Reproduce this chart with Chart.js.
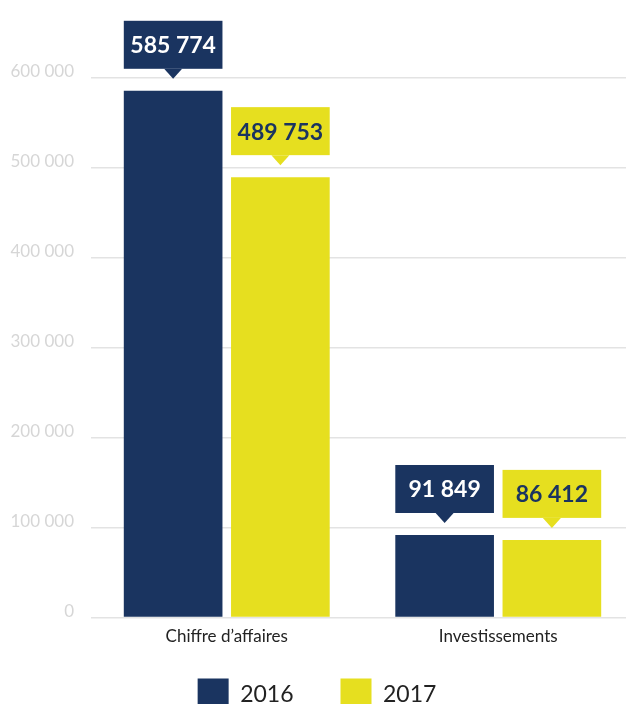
<!DOCTYPE html>
<html lang="fr">
<head>
<meta charset="utf-8">
<script src="https://cdn.jsdelivr.net/npm/chart.js@4.4.0/dist/chart.umd.min.js"></script>
<style>
  html, body { margin: 0; padding: 0; background: #fff; overflow: hidden; }
  #cadre { position: relative; width: 634px; height: 736px; }
</style>
</head>
<body>
<div id="cadre"><canvas id="graphique"></canvas></div>
<script>
const categories = ['Chiffre d’affaires', 'Investissements'];
const annees = ['2016', '2017'];
const valeurs2016 = [585774, 91849];
const valeurs2017 = [489753, 86412];
const graduations = [0, 100000, 200000, 300000, 400000, 500000, 600000];

const couleurs = ['#1a3460', '#e6df1f'];
const couleursTexte = ['#ffffff', '#1a3460'];

function formatNombre(v) {
  return String(v).replace(/\B(?=(\d{3})+(?!\d))/g, ' ');
}

// bulles au-dessus des barres
const bulles = {
  id: 'bulles',
  afterDatasetsDraw(chart) {
    const ctx = chart.ctx;
    chart.data.datasets.forEach((ds, i) => {
      const meta = chart.getDatasetMeta(i);
      meta.data.forEach((barre, j) => {
        const { x, y, width } = barre.getProps(['x', 'y', 'width'], true);
        const bas = y - 22;
        const haut = bas - 48;
        ctx.save();
        ctx.fillStyle = ds.backgroundColor;
        ctx.fillRect(x - width / 2, haut, width, 48);
        ctx.beginPath();
        ctx.moveTo(x - 9, bas);
        ctx.lineTo(x + 9, bas);
        ctx.lineTo(x, bas + 10);
        ctx.closePath();
        ctx.fill();
        ctx.fillStyle = couleursTexte[i];
        ctx.font = 'bold 23px Lato';
        ctx.textAlign = 'center';
        ctx.textBaseline = 'middle';
        ctx.fillText(formatNombre(ds.data[j]), x, haut + 25);
        ctx.restore();
      });
    });
  }
};

// remonte la légende juste sous les libellés
const legendeHaute = {
  id: 'legendeHaute',
  afterLayout(chart) {
    const leg = chart.legend;
    const h = leg.bottom - leg.top;
    leg.top = chart.chartArea.bottom + 14;
    leg.bottom = leg.top + h;
  }
};

const ctx = document.getElementById('graphique').getContext('2d');
new Chart(ctx, {
  type: 'bar',
  data: {
    labels: categories,
    datasets: [
      {
        label: annees[0],
        data: valeurs2016,
        backgroundColor: couleurs[0],
        borderWidth: 0
      },
      {
        label: annees[1],
        data: valeurs2017,
        backgroundColor: couleurs[1],
        borderWidth: 0
      }
    ]
  },
  options: {
    responsive: true,
    maintainAspectRatio: false,
    animation: false,
    layout: { padding: { top: 78, right: 0, left: 0, bottom: 0 } },
    datasets: {
      bar: { categoryPercentage: 0.79, barPercentage: 0.92 }
    },
    plugins: {
      tooltip: { enabled: false },
      legend: {
        position: 'bottom',
        labels: {
          boxWidth: 31,
          boxHeight: 31,
          padding: 47,
          color: '#222',
          font: { family: 'Lato', size: 23 }
        }
      }
    },
    scales: {
      x: {
        grid: { display: false },
        border: { display: false },
        ticks: {
          color: '#222',
          font: { family: 'Lato', size: 17 },
          padding: 1
        }
      },
      y: {
        min: graduations[0],
        max: graduations[graduations.length - 1],
        afterBuildTicks: s => { s.ticks = graduations.map(v => ({ value: v })); },
        border: { display: false },
        grid: { color: '#e3e3e3', lineWidth: 1.5, drawTicks: false },
        ticks: {
          color: '#d6d6d6',
          font: { family: 'Lato', size: 17 },
          padding: 17,
          labelOffset: -6,
          callback: v => formatNombre(v)
        },
        afterFit: s => { s.width = 91; }
      }
    }
  },
  plugins: [bulles, legendeHaute]
});
</script>
</body>
</html>
